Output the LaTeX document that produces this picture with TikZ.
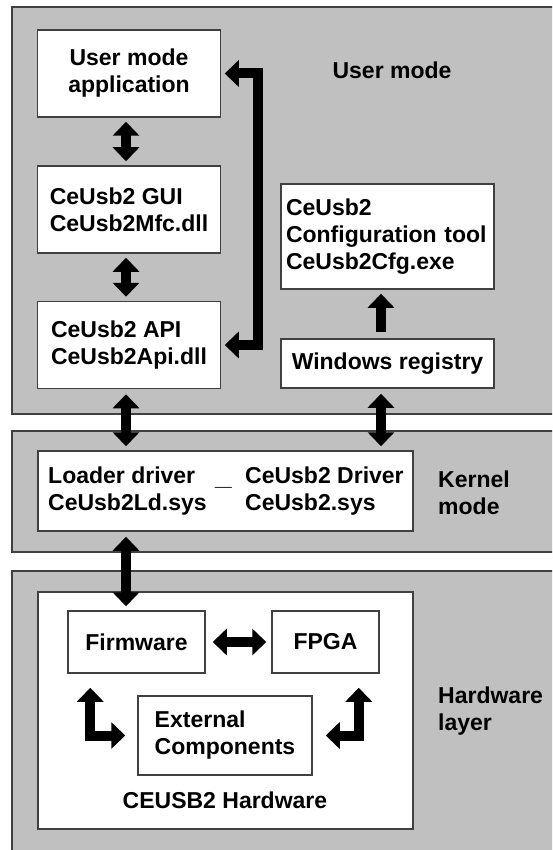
\documentclass[tikz,border=0pt]{standalone}
\usepackage{fontspec}
\setmainfont{Liberation Sans}
\usetikzlibrary{arrows.meta,positioning}
\definecolor{silver}{RGB}{192,192,192}

\begin{document}
\begin{tikzpicture}[x=1pt,y=-1pt,>={Triangle[width=26pt,length=14pt]},
		font=\fontsize{23}{27}\selectfont\bfseries,
		layer/.style={draw=black!75,line width=1.5pt,fill=silver},
		box/.style={draw=black!75,line width=1.5pt,fill=white,inner sep=0pt},
		fat/.style={line width=10pt,line join=miter,shorten <=4pt,shorten >=4pt}]
		\useasboundingbox (0,0) rectangle (552,850);
		\clip (0,0) rectangle (552,850);

		% Layers: user mode, kernel mode, hardware
		\draw[layer] (12,7) rectangle (570,414);
		\draw[layer] (12,431) rectangle (570,552);
		\draw[layer] (12,571) rectangle (570,870);

		% User mode blocks
		\node[box,minimum width=183pt,minimum height=87pt,align=center] (app) at (129,73.5) {User mode\\application};
		\node[box,minimum width=183pt,minimum height=87pt,align=left] (gui) at (129,209.5) {CeUsb2 GUI\\CeUsb2Mfc.dll};
		\node[box,minimum width=183pt,minimum height=87pt,align=left] (api) at (129,345) {CeUsb2 API\\CeUsb2Api.dll};
		\node[box,minimum width=213pt,minimum height=105pt,text width=203pt,align=left] (cfg) at (387.5,236.5) {CeUsb2\\Configuration tool\\CeUsb2Cfg.exe};
		\node[box,minimum width=213pt,minimum height=49pt] (reg) at (387.5,363.5) {Windows registry};
		\node (umlabel) at (392,70) {User mode};

		% Kernel mode drivers
		\node[box,minimum width=375pt,minimum height=80pt] (kbox) at (225.5,491) {};
		\node[anchor=west,align=left,inner sep=0pt] (ldr) at (48,491) {Loader driver\\CeUsb2Ld.sys};
		\node[anchor=base,inner sep=0pt,xscale=1.3] (dash) at (223.5,485) {\_};
		\node[anchor=west,align=left,inner sep=0pt] (drv) at (245,491) {CeUsb2 Driver\\CeUsb2.sys};
		\node[anchor=west,align=left,inner sep=0pt] (kmlabel) at (438,493) {Kernel\\mode};

		% Hardware
		\node[box,minimum width=375pt,minimum height=237pt] (hwbox) at (225.5,710.5) {};
		\node[box,minimum width=137pt,minimum height=62pt] (fw) at (136.5,642) {Firmware};
		\node[box,minimum width=107pt,minimum height=62pt] (fpga) at (325.5,642) {FPGA};
		\node[box,minimum width=174pt,minimum height=79pt,align=left] (ext) at (225,735.5) {External\\Components};
		\node (hwname) at (225,800) {CEUSB2 Hardware};
		\node[anchor=west,align=left,inner sep=0pt] (hwlabel) at (438,711) {Hardware\\layer};

		% Connections inside user mode
		\draw[fat,<->] ([xshift=-3pt]app.south) -- ([xshift=-3pt]gui.north);
		\draw[fat,<->] ([xshift=-3pt]gui.south) -- ([xshift=-3pt]api.north);
		\draw[fat,<->,shorten <=3.5pt,shorten >=3.5pt] (app.east) -- ++(37,0) |- (api.east);
		\draw[fat,->,shorten <=6pt] ([xshift=-6.5pt]reg.north) -- ([xshift=-6.5pt]cfg.south);

		% User mode <-> kernel mode <-> hardware
		\draw[fat,<->,shorten <=5pt] ([xshift=-3pt]api.south) -- ([xshift=-3pt]api.south |- kbox.north);
		\draw[fat,<->,shorten <=5pt] ([xshift=-6.5pt]reg.south) -- ([xshift=-6.5pt]reg.south |- kbox.north);
		\draw[fat,<->,shorten <=5pt] ([xshift=-10.5pt]fw.north |- kbox.south) -- ([xshift=-10.5pt]fw.north);

		% Hardware links
		\draw[fat,<->,shorten <=7pt,shorten >=5pt] (fw.east) -- (fpga.west);
		\draw[fat,<->,shorten <=14pt,shorten >=12pt] ([xshift=23pt]fw.south west) |- (ext.west);
		\draw[fat,<->,shorten <=14pt,shorten >=13pt] ([xshift=-21pt]fpga.south east) |- (ext.east);
	\end{tikzpicture}
\end{document}
